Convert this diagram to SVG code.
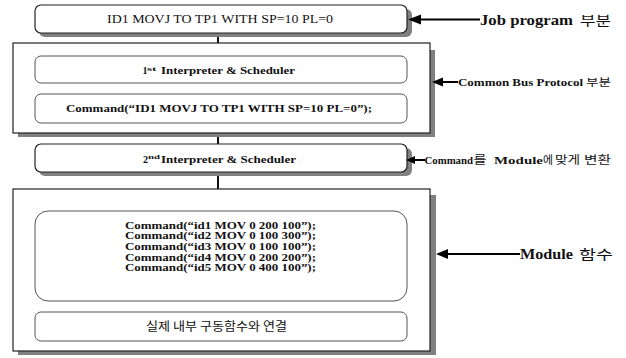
<svg xmlns="http://www.w3.org/2000/svg" width="626" height="358" viewBox="0 0 626 358">
  <style>
    .shadow { fill: #808080; }
    .box { fill: #ffffff; stroke: #222222; stroke-width: 1.2; }
    .inner { fill: #ffffff; stroke: #555555; stroke-width: 1; }
    .frame { fill: #ffffff; stroke: #222222; stroke-width: 1.2; }
    .lbl { font-family: "Liberation Serif", "DejaVu Serif", serif; fill: #111111; }
    .b { font-weight: bold; }
    .kr { font-family: "Noto Sans CJK KR", "Noto Sans", sans-serif; fill: #111111; }
    .conn { stroke: #111111; stroke-width: 2; fill: none; }
    .arr { stroke: #000000; stroke-width: 2; fill: none; }
    .head { fill: #000000; }
  </style>

  <!-- vertical connectors between stages -->
  <g id="connectors">
    <line class="conn" x1="218" y1="33" x2="218" y2="43"/>
    <line class="conn" x1="218" y1="133" x2="218" y2="144"/>
    <line class="conn" x1="218" y1="172" x2="218" y2="189"/>
  </g>

  <!-- job program line -->
  <g id="job-program">
    <rect class="shadow" x="39" y="9" width="373" height="28" rx="6"/>
    <rect class="box" x="35" y="5" width="372" height="28" rx="6"/>
    <text class="lbl" x="107" y="23" font-size="12" textLength="226" lengthAdjust="spacingAndGlyphs">ID1 MOVJ TO TP1 WITH SP=10 PL=0</text>
  </g>

  <!-- common bus protocol stage -->
  <g id="bus-protocol">
    <rect class="shadow" x="18" y="50" width="417" height="87"/>
    <rect class="frame" x="13" y="43" width="417" height="90"/>
    <g id="interpreter-1">
      <rect class="inner" x="35" y="56" width="372" height="27" rx="6"/>
      <text class="lbl b" x="142.5" y="74" font-size="10">1</text>
      <text class="lbl b" x="147" y="70.5" font-size="7" textLength="9.5" lengthAdjust="spacingAndGlyphs">st</text>
      <text class="lbl b" x="161" y="74" font-size="10" textLength="134" lengthAdjust="spacingAndGlyphs">Interpreter &amp; Scheduler</text>
    </g>
    <g id="bus-command">
      <rect class="inner" x="35" y="94" width="372" height="29" rx="6"/>
      <text class="lbl b" x="66" y="112" font-size="11" textLength="306" lengthAdjust="spacingAndGlyphs">Command(“ID1 MOVJ TO TP1 WITH SP=10 PL=0”);</text>
    </g>
  </g>

  <!-- second interpreter -->
  <g id="interpreter-2">
    <rect class="shadow" x="39" y="148" width="373" height="28" rx="6"/>
    <rect class="box" x="35" y="144" width="372" height="28" rx="6"/>
    <text class="lbl b" x="143" y="162.5" font-size="10">2</text>
    <text class="lbl b" x="148" y="159" font-size="7" textLength="12" lengthAdjust="spacingAndGlyphs">nd</text>
    <text class="lbl b" x="161" y="162.5" font-size="10" textLength="135" lengthAdjust="spacingAndGlyphs">Interpreter &amp; Scheduler</text>
  </g>

  <!-- module functions stage -->
  <g id="module">
    <rect class="shadow" x="18" y="195" width="418" height="160"/>
    <rect class="frame" x="13" y="189" width="417" height="162"/>
    <g id="module-commands">
      <rect class="inner" x="35" y="211" width="372" height="90" rx="13"/>
      <g class="lbl b" font-size="10.5">
        <text x="125" y="228.5" textLength="191" lengthAdjust="spacingAndGlyphs">Command(“id1 MOV 0 200 100”);</text>
        <text x="125" y="239.2" textLength="191" lengthAdjust="spacingAndGlyphs">Command(“id2 MOV 0 100 300”);</text>
        <text x="125" y="249.9" textLength="191" lengthAdjust="spacingAndGlyphs">Command(“id3 MOV 0 100 100”);</text>
        <text x="125" y="260.6" textLength="191" lengthAdjust="spacingAndGlyphs">Command(“id4 MOV 0 200 200”);</text>
        <text x="125" y="271.3" textLength="191" lengthAdjust="spacingAndGlyphs">Command(“id5 MOV 0 400 100”);</text>
      </g>
    </g>
    <g id="internal-link">
      <rect class="inner" x="35" y="312" width="372" height="29" rx="6"/>
      <text class="kr" x="146" y="331" font-size="12" textLength="141" lengthAdjust="spacingAndGlyphs">실제 내부 구동함수와 연결</text>
    </g>
  </g>

  <!-- side annotations -->
  <g id="annotations">
    <line class="arr" x1="419" y1="19.5" x2="480" y2="19.5"/>
    <polygon class="head" points="408,19.5 421,14.5 421,24.5"/>
    <text class="lbl b" x="480" y="25" font-size="15" textLength="93" lengthAdjust="spacingAndGlyphs">Job program</text>
    <text class="kr" x="580" y="25" font-size="13" textLength="31" lengthAdjust="spacingAndGlyphs">부분</text>

    <line class="arr" x1="441" y1="82" x2="458" y2="82"/>
    <polygon class="head" points="432,82 443,77.5 443,86.5"/>
    <text class="lbl b" x="458" y="86" font-size="10" textLength="125" lengthAdjust="spacingAndGlyphs">Common Bus Protocol</text>
    <text class="kr" x="586" y="86" font-size="10.5" textLength="25" lengthAdjust="spacingAndGlyphs">부분</text>

    <line class="arr" x1="413" y1="160" x2="425" y2="160"/>
    <polygon class="head" points="406,160 415,156 415,164"/>
    <text class="lbl b" x="424.5" y="164" font-size="11" textLength="48.5" lengthAdjust="spacingAndGlyphs">Command</text>
    <text class="kr" x="473.5" y="164" font-size="11.5" textLength="13" lengthAdjust="spacingAndGlyphs">를</text>
    <text class="lbl b" x="494" y="164" font-size="11" textLength="49" lengthAdjust="spacingAndGlyphs">Module</text>
    <text class="kr" x="543" y="164" font-size="11" textLength="10" lengthAdjust="spacingAndGlyphs">에</text>
    <text class="kr" x="555" y="164" font-size="11" textLength="25" lengthAdjust="spacingAndGlyphs">맞게</text>
    <text class="kr" x="584" y="164" font-size="11" textLength="27" lengthAdjust="spacingAndGlyphs">변환</text>

    <line class="arr" x1="446" y1="254" x2="520" y2="254"/>
    <polygon class="head" points="436,254 448,249 448,259"/>
    <text class="lbl b" x="520" y="259" font-size="14" textLength="53" lengthAdjust="spacingAndGlyphs">Module</text>
    <text class="kr" x="579" y="259" font-size="13" textLength="34" lengthAdjust="spacingAndGlyphs">함수</text>
  </g>
</svg>
